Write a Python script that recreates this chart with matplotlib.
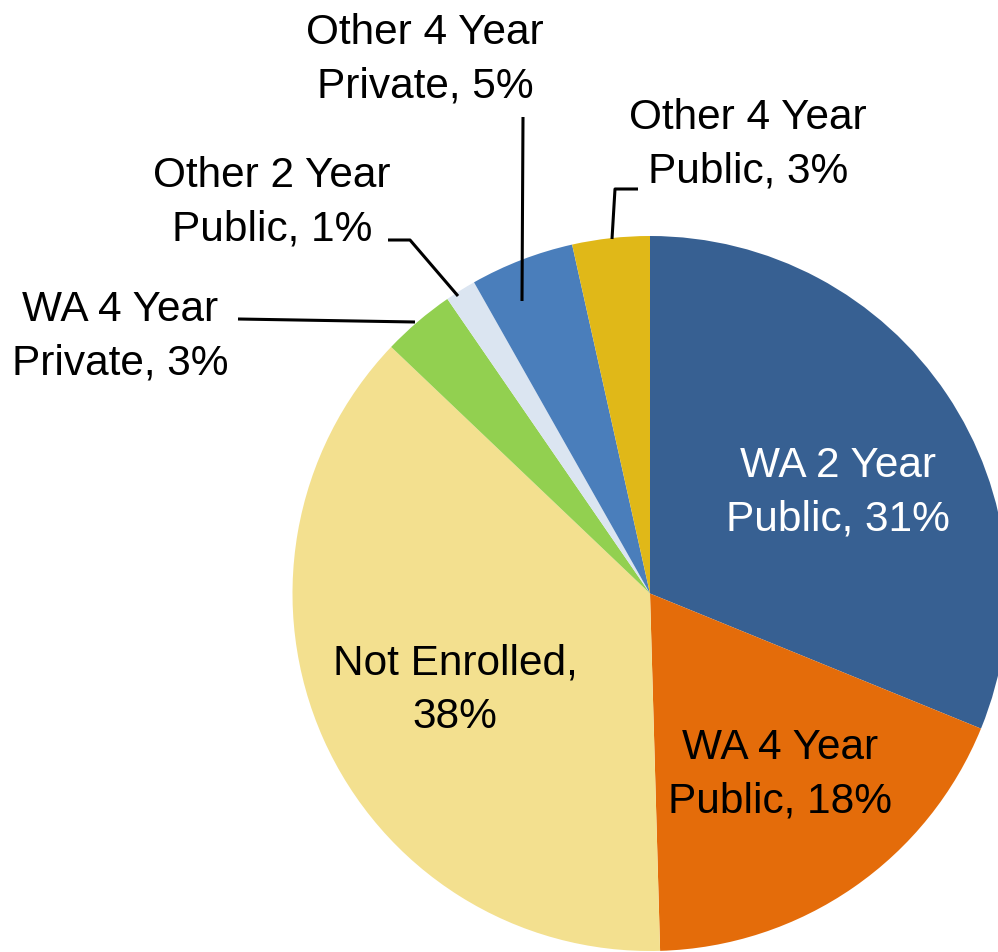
import matplotlib
matplotlib.use("Agg")
import matplotlib.pyplot as plt

categories = ["WA 2 Year Public", "WA 4 Year Public", "Not Enrolled", "WA 4 Year Private",
              "Other 2 Year Public", "Other 4 Year Private", "Other 4 Year Public"]
values = [31.2, 18.4, 37.6, 3.3, 1.4, 4.7, 3.5]
labels = ["WA 2 Year\nPublic, 31%", "WA 4 Year\nPublic, 18%", "Not Enrolled,\n38%",
          "WA 4 Year\nPrivate, 3%", "Other 2 Year\nPublic, 1%", "Other 4 Year\nPrivate, 5%",
          "Other 4 Year\nPublic, 3%"]
colors = ["#376092", "#E46C0A", "#F3E08F", "#92D050", "#DBE5F1", "#4A7EBB", "#E0B818"]

W, H = 998, 953
CX, CY, R = 650, 594.5, 357.5

def p2d(px, py):
    return (px - CX) / R, (CY - py) / R

fig = plt.figure(figsize=(W / 100, H / 100), dpi=100)
ax = fig.add_axes([0, 0, 1, 1])
ax.pie(values, colors=colors, startangle=90, counterclock=False, radius=1,
       wedgeprops=dict(linewidth=0))
ax.set_xlim(-CX / R, (W - CX) / R)
ax.set_ylim((CY - H) / R, CY / R)
ax.set_aspect("equal")
ax.axis("off")

font = ["Liberation Sans", "DejaVu Sans"]
fs = 30.5
label_pos = [(838, 493), (780, 775), (455, 690), (120, 337), (272, 203), (425, 60), (748, 145)]
label_col = ["white", "black", "black", "black", "black", "black", "black"]
for lab, (px, py), c in zip(labels, label_pos, label_col):
    x, y = p2d(px, py)
    ax.text(x, y, lab, ha="center", va="center", fontsize=fs, color=c, family=font,
            linespacing=1.42)

leaders = [
    [(238, 320), (415, 323)],
    [(388, 241), (410, 241), (458, 297)],
    [(523, 118), (522, 302)],
    [(638, 190), (615, 190), (612, 240)],
]
for pts in leaders:
    xs, ys = zip(*[p2d(px, py) for px, py in pts])
    ax.plot(xs, ys, color="black", lw=2.2, solid_capstyle="butt")

fig.savefig("out.png", dpi=100)
